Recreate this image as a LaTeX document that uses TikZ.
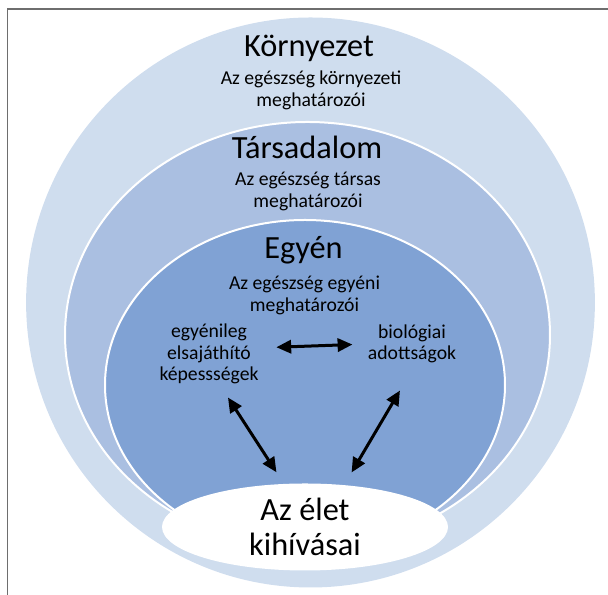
\documentclass[tikz,border=0pt]{standalone}
\usepackage{fontspec}
\setmainfont{Carlito}
\usetikzlibrary{arrows.meta,shapes.geometric}
\usepackage{xcolor}
\definecolor{kornyezetblue}{RGB}{207,221,238}
\definecolor{tarsadalomblue}{RGB}{170,191,225}
\definecolor{egyenblue}{RGB}{128,162,212}
\definecolor{framegray}{RGB}{110,110,110}

\begin{document}
\begin{tikzpicture}[
    titletext/.style={anchor=base,text=black,font=\fontsize{23}{26}\selectfont},
    desctext/.style={align=center,inner sep=0pt,text=black,font=\fontsize{14}{15.5}\selectfont},
    twoway/.style={<->,>={Triangle[length=0.37cm,width=0.33cm]},line width=0.075cm,black}
  ]
  \useasboundingbox (0,0) rectangle (15.2,14.875);

  % --- frame ---
  \draw[framegray,line width=0.045cm] (0.1875,0) -- (0.1875,14.65) -- (15.2,14.65);

  % --- rings ---
  \fill[kornyezetblue] (7.7625,7.3125) ellipse (7.11 and 7.125);
  \begin{scope}
    \clip (0,1.7) rectangle (15.2,14.875);
    \filldraw[fill=tarsadalomblue,draw=white,line width=0.05cm] (7.6875,6.5) ellipse (6.0625 and 5.325);
    \filldraw[fill=egyenblue,draw=white,line width=0.05cm] (7.625,5.25) ellipse (5.0 and 4.125);
  \end{scope}

  % --- challenges of life ---
  \node[ellipse,fill=white,inner sep=0pt,minimum width=7.15cm,minimum height=2.175cm,
    align=center,font=\fontsize{23}{25}\selectfont] (kihivasok) at (7.625,1.7) {Az élet\\kihívásai};

  % --- ring titles ---
  \node[titletext] (kornyezet) at (7.725,13.45) {Környezet};
  \node[desctext] (kornyezetdesc) at (7.775,12.62) {Az egészség környezeti\\meghatározói};
  \node[titletext] (tarsadalom) at (7.675,10.9) {Társadalom};
  \node[desctext] (tarsadalomdesc) at (7.7,10.08) {Az egészség társas\\meghatározói};
  \node[titletext] (egyen) at (7.5875,8.4) {Egyén};
  \node[desctext] (egyendesc) at (7.6125,7.48) {Az egészség egyéni\\meghatározói};

  % --- individual factors ---
  \node[desctext,font=\fontsize{14}{15.4}\selectfont] (kepessegek) at (5.225,6.025)
    {egyénileg\\elsajáthító\\képessségek};
  \node[desctext,font=\fontsize{14}{15.4}\selectfont] (adottsagok) at (10.3,6.275)
    {biológiai\\adottságok};

  % --- connections ---
  \draw[twoway,shorten <=0.44cm,shorten >=0.38cm] (kepessegek.7) -- (adottsagok.west);
  \draw[twoway,shorten <=0.39cm,shorten >=0.34cm] (kepessegek.-71) -- (kihivasok.116);
  \draw[twoway,shorten <=0.78cm,shorten >=0.36cm] (adottsagok.-79) -- (kihivasok.47);

\end{tikzpicture}
\end{document}
